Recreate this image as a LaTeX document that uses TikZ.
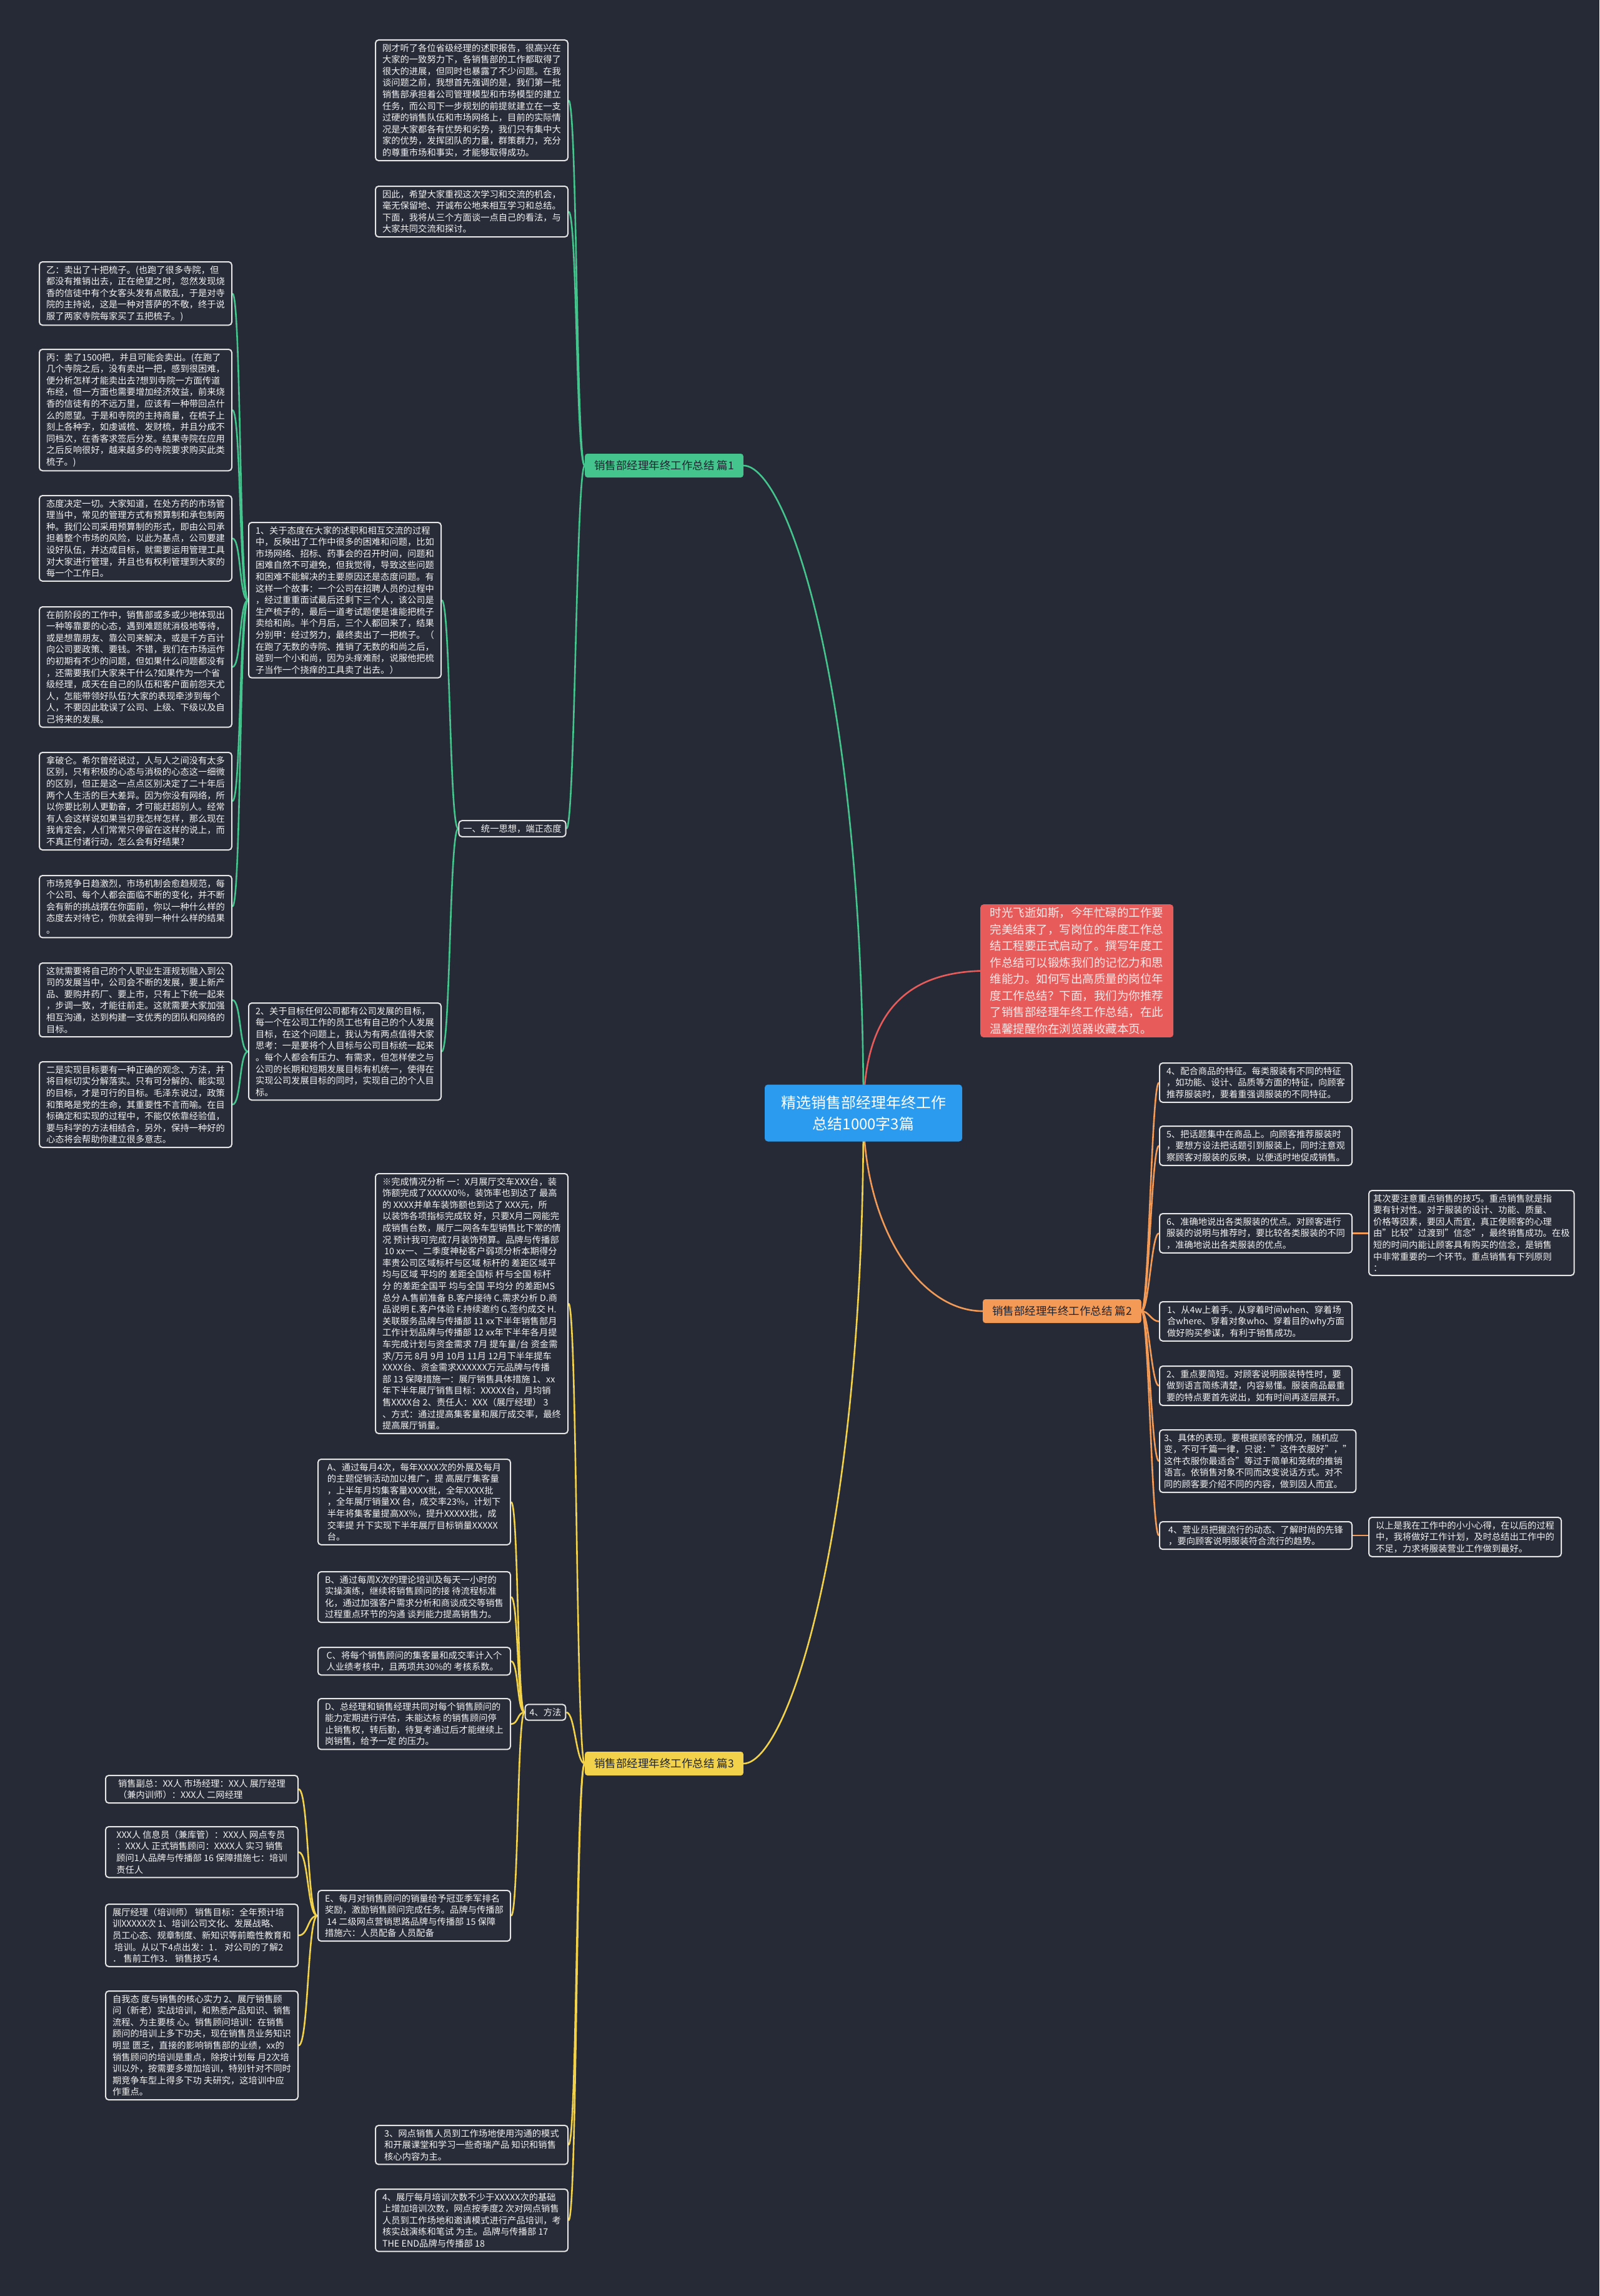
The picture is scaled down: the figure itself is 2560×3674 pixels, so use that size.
\documentclass[tikz,border=0pt]{standalone}
\usepackage{fontspec}
\setmainfont{Noto Sans CJK SC}
\definecolor{bgdark}{HTML}{262A36}
\definecolor{boxfill}{HTML}{282C38}
\definecolor{boxline}{HTML}{E6E6E6}
\definecolor{txt}{HTML}{F2F2F2}
\definecolor{labtxt}{HTML}{1F2430}
\definecolor{gline}{HTML}{44C58D}
\definecolor{rline}{HTML}{E85B5B}
\definecolor{oline}{HTML}{F39A57}
\definecolor{yline}{HTML}{F2D24A}
\definecolor{ctrblue}{HTML}{2B9BF0}
\definecolor{introtxt}{HTML}{FCE8E8}
\pgfdeclarelayer{bglayer}
\pgfdeclarelayer{edgelayer}
\pgfsetlayers{bglayer,edgelayer,main}

\begin{document}
\begin{tikzpicture}[x=1pt,y=-1pt,
  textbox/.style={draw=boxline,line width=2pt,rounded corners=5pt,fill=boxfill,text=txt,align=left,anchor=north west,inner xsep=7pt,inner ysep=6pt,minimum width=308pt,font=\fontsize{14.3}{18.6}\selectfont},
  subbox/.style={draw=boxline,line width=2pt,rounded corners=5pt,fill=boxfill,text=txt,inner xsep=7pt,inner ysep=6pt,font=\fontsize{14.3}{18.6}\selectfont},
  branchtag/.style={fill=#1,text=labtxt,rounded corners=4pt,inner xsep=15pt,minimum height=38pt,font=\fontsize{17.5}{21}\selectfont},
  wire/.style={draw=#1,line width=2.6pt}]
\useasboundingbox (0,0) rectangle (2560,3674);
\begin{pgfonlayer}{bglayer}
\fill[bgdark] (0,0) rectangle (2560,3674);
\end{pgfonlayer}

\node[fill=ctrblue,text=white,rounded corners=5pt,align=center,inner xsep=26pt,minimum height=91pt,font=\fontsize{24}{34}\selectfont] (ctr) at (1382,1781) {精选销售部经理年终工作\\总结1000字3篇};
\node[fill=rline,text=introtxt,rounded corners=5pt,align=left,anchor=north west,inner xsep=12pt,inner ysep=5pt,minimum width=309pt,font=\fontsize{18.5}{26.5}\selectfont] (intro) at (1569,1447) {时光飞逝如斯，今年忙碌的工作要\\完美结束了，写岗位的年度工作总\\结工程要正式启动了。撰写年度工\\作总结可以锻炼我们的记忆力和思\\维能力。如何写出高质量的岗位年\\度工作总结？下面，我们为你推荐\\了销售部经理年终工作总结，在此\\温馨提醒你在浏览器收藏本页。};

\node[branchtag=gline] (t1) at (1063,745) {销售部经理年终工作总结 篇1};
\node[branchtag=oline] (t2) at (1700,2098) {销售部经理年终工作总结 篇2};
\node[branchtag=yline] (t3) at (1063,2822) {销售部经理年终工作总结 篇3};

\node[textbox] (p1a) at (600,63) {刚才听了各位省级经理的述职报告，很高兴在\\大家的一致努力下，各销售部的工作都取得了\\很大的进展，但同时也暴露了不少问题。在我\\谈问题之前，我想首先强调的是，我们第一批\\销售部承担着公司管理模型和市场模型的建立\\任务，而公司下一步规划的前提就建立在一支\\过硬的销售队伍和市场网络上，目前的实际情\\况是大家都各有优势和劣势，我们只有集中大\\家的优势，发挥团队的力量，群策群力，充分\\的尊重市场和事实，才能够取得成功。};
\node[textbox] (p1b) at (600,297) {因此，希望大家重视这次学习和交流的机会，\\毫无保留地、开诚布公地来相互学习和总结。\\下面，我将从三个方面谈一点自己的看法，与\\大家共同交流和探讨。};
\node[subbox] (u1) at (820,1326) {一、统一思想，端正态度};
\node[textbox] (g1) at (397,835) {1、关于态度在大家的述职和相互交流的过程\\中，反映出了工作中很多的困难和问题，比如\\市场网络、招标、药事会的召开时间，问题和\\困难自然不可避免，但我觉得，导致这些问题\\和困难不能解决的主要原因还是态度问题。有\\这样一个故事：一个公司在招聘人员的过程中\\，经过重重面试最后还剩下三个人，该公司是\\生产梳子的，最后一道考试题便是谁能把梳子\\卖给和尚。半个月后，三个人都回来了，结果\\分别甲：经过努力，最终卖出了一把梳子。（\\在跑了无数的寺院、推销了无数的和尚之后，\\碰到一个小和尚，因为头痒难耐，说服他把梳\\子当作一个挠痒的工具卖了出去。）};
\node[textbox] (g2) at (397,1604) {2、关于目标任何公司都有公司发展的目标，\\每一个在公司工作的员工也有自己的个人发展\\目标，在这个问题上，我认为有两点值得大家\\思考：一是要将个人目标与公司目标统一起来\\。每个人都会有压力、有需求，但怎样使之与\\公司的长期和短期发展目标有机统一，使得在\\实现公司发展目标的同时，实现自己的个人目\\标。};

\node[textbox] (c1) at (62,418) {乙：卖出了十把梳子。(也跑了很多寺院，但\\都没有推销出去，正在绝望之时，忽然发现烧\\香的信徒中有个女客头发有点散乱，于是对寺\\院的主持说，这是一种对菩萨的不敬，终于说\\服了两家寺院每家买了五把梳子。)};
\node[textbox] (c2) at (62,558) {丙：卖了1500把，并且可能会卖出。(在跑了\\几个寺院之后，没有卖出一把，感到很困难，\\便分析怎样才能卖出去?想到寺院一方面传道\\布经，但一方面也需要增加经济效益，前来烧\\香的信徒有的不远万里，应该有一种带回点什\\么的愿望。于是和寺院的主持商量，在梳子上\\刻上各种字，如虔诚梳、发财梳，并且分成不\\同档次，在香客求签后分发。结果寺院在应用\\之后反响很好，越来越多的寺院要求购买此类\\梳子。)};
\node[textbox] (c3) at (62,792) {态度决定一切。大家知道，在处方药的市场管\\理当中，常见的管理方式有预算制和承包制两\\种。我们公司采用预算制的形式，即由公司承\\担着整个市场的风险，以此为基点，公司要建\\设好队伍，并达成目标，就需要运用管理工具\\对大家进行管理，并且也有权利管理到大家的\\每一个工作日。};
\node[textbox] (c4) at (62,970) {在前阶段的工作中，销售部或多或少地体现出\\一种等靠要的心态，遇到难题就消极地等待，\\或是想靠朋友、靠公司来解决，或是千方百计\\向公司要政策、要钱。不错，我们在市场运作\\的初期有不少的问题，但如果什么问题都没有\\，还需要我们大家来干什么?如果作为一个省\\级经理，成天在自己的队伍和客户面前怨天尤\\人，怎能带领好队伍?大家的表现牵涉到每个\\人，不要因此耽误了公司、上级、下级以及自\\己将来的发展。};
\node[textbox] (c5) at (62,1203) {拿破仑。希尔曾经说过，人与人之间没有太多\\区别，只有积极的心态与消极的心态这一细微\\的区别，但正是这一点点区别决定了二十年后\\两个人生活的巨大差异。因为你没有网络，所\\以你要比别人更勤奋，才可能赶超别人。经常\\有人会这样说如果当初我怎样怎样，那么现在\\我肯定会，人们常常只停留在这样的说上，而\\不真正付诸行动，怎么会有好结果?};
\node[textbox] (c6) at (62,1400) {市场竞争日趋激烈，市场机制会愈趋规范，每\\个公司、每个人都会面临不断的变化，并不断\\会有新的挑战摆在你面前，你以一种什么样的\\态度去对待它，你就会得到一种什么样的结果\\。};
\node[textbox] (c7) at (62,1540) {这就需要将自己的个人职业生涯规划融入到公\\司的发展当中，公司会不断的发展，要上新产\\品、要购并药厂、要上市，只有上下统一起来\\，步调一致，才能往前走。这就需要大家加强\\相互沟通，达到构建一支优秀的团队和网络的\\目标。};
\node[textbox] (c8) at (62,1698) {二是实现目标要有一种正确的观念、方法，并\\将目标切实分解落实。只有可分解的、能实现\\的目标，才是可行的目标。毛泽东说过，政策\\和策略是党的生命，其重要性不言而喻。在目\\标确定和实现的过程中，不能仅依靠经验值，\\要与科学的方法相结合，另外，保持一种好的\\心态将会帮助你建立很多意志。};

\node[textbox] (r4) at (1855,1700) {4、配合商品的特征。每类服装有不同的特征\\，如功能、设计、品质等方面的特征，向顾客\\推荐服装时，要着重强调服装的不同特征。};
\node[textbox] (r5) at (1855,1801) {5、把话题集中在商品上。向顾客推荐服装时\\，要想方设法把话题引到服装上，同时注意观\\察顾客对服装的反映，以便适时地促成销售。};
\node[textbox] (r6) at (1855,1941) {6、准确地说出各类服装的优点。对顾客进行\\服装的说明与推荐时，要比较各类服装的不同\\，准确地说出各类服装的优点。};
\node[textbox] (rf1) at (2190,1904) {其次要注意重点销售的技巧。重点销售就是指\\要有针对性。对于服装的设计、功能、质量、\\价格等因素，要因人而宜，真正使顾客的心理\\由"比较"过渡到"信念"，最终销售成功。在极\\短的时间内能让顾客具有购买的信念，是销售\\中非常重要的一个环节。重点销售有下列原则\\：};
\node[textbox] (r1) at (1855,2082) {1、从4w上着手。从穿着时间when、穿着场\\合where、穿着对象who、穿着目的why方面\\做好购买参谋，有利于销售成功。};
\node[textbox] (r2) at (1855,2185) {2、重点要简短。对顾客说明服装特性时，要\\做到语言简练清楚，内容易懂。服装商品最重\\要的特点要首先说出，如有时间再逐层展开。};
\node[textbox] (r3) at (1855,2287) {3、具体的表现。要根据顾客的情况，随机应\\变，不可千篇一律，只说："这件衣服好"，"\\这件衣服你最适合"等过于简单和笼统的推销\\语言。依销售对象不同而改变说话方式。对不\\同的顾客要介绍不同的内容，做到因人而宜。};
\node[textbox] (r7) at (1855,2434) {4、营业员把握流行的动态、了解时尚的先锋\\，要向顾客说明服装符合流行的趋势。};
\node[textbox] (rf2) at (2190,2427) {以上是我在工作中的小小心得，在以后的过程\\中，我将做好工作计划，及时总结出工作中的\\不足，力求将服装营业工作做到最好。};

\node[textbox] (b1) at (600,1877) {※完成情况分析 一：X月展厅交车XXX台，装\\饰额完成了XXXXX0\%，装饰率也到达了 最高\\的 XXXX并单车装饰额也到达了 XXX元，所\\以装饰各项指标完成较 好，只要X月二网能完\\成销售台数，展厅二网各车型销售比下常的情\\况 预计我可完成7月装饰预算。品牌与传播部\\ \ 10 xx一、二季度神秘客户弱项分析本期得分\\率贵公司区域标杆与区域 标杆的 差距区域平\\均与区域 平均的 差距全国标 杆与全国 标杆\\分 的差距全国平 均与全国 平均分 的差距MS\\总分 A.售前准备 B.客户接待 C.需求分析 D.商\\品说明 E.客户体验 F.持续邀约 G.签约成交 H.\\关联服务品牌与传播部 11 xx下半年销售部月\\工作计划品牌与传播部 12 xx年下半年各月提\\车完成计划与资金需求 7月 提车量/台 资金需\\求/万元 8月 9月 10月 11月 12月下半年提车\\XXXX台、资金需求XXXXXX万元品牌与传播\\部 13 保障措施一：展厅销售具体措施 1、xx\\年下半年展厅销售目标：XXXXX台，月均销\\售XXXX台 2、责任人：XXX（展厅经理） 3\\、方式：通过提高集客量和展厅成交率，最终\\提高展厅销量。};
\node[subbox] (m4) at (873,2740) {4、方法};
\node[textbox] (ma) at (508,2334) {A、通过每月4次，每年XXXX次的外展及每月\\的主题促销活动加以推广，提 高展厅集客量\\，上半年月均集客量XXXX批，全年XXXX批\\，全年展厅销量XX 台，成交率23\%，计划下\\半年将集客量提高XX\%，提升XXXXX批，成\\交率提 升下实现下半年展厅目标销量XXXXX\\台。};
\node[textbox] (mb) at (508,2514) {B、通过每周X次的理论培训及每天一小时的\\实操演练，继续将销售顾问的接 待流程标准\\化，通过加强客户需求分析和商谈成交等销售\\过程重点环节的沟通 谈判能力提高销售力。};
\node[textbox] (mc) at (508,2635) {C、将每个销售顾问的集客量和成交率计入个\\人业绩考核中，且两项共30\%的 考核系数。};
\node[textbox] (md) at (508,2717) {D、总经理和销售经理共同对每个销售顾问的\\能力定期进行评估，未能达标 的销售顾问停\\止销售权，转后勤，待复考通过后才能继续上\\岗销售，给予一定 的压力。};
\node[textbox] (me) at (508,3024) {E、每月对销售顾问的销量给予冠亚季军排名\\奖励，激励销售顾问完成任务。品牌与传播部\\ \ 14 二级网点营销思路品牌与传播部 15 保障\\措施六：人员配备 人员配备};
\node[textbox] (l1) at (168,2840) {销售副总：XX人 市场经理：XX人 展厅经理\\（兼内训师）：XXX人 二网经理};
\node[textbox] (l2) at (168,2922) {XXX人 信息员（兼库管）：XXX人 网点专员\\：XXX人 正式销售顾问：XXXX人 实习 销售\\顾问1人品牌与传播部 16 保障措施七：培训\\责任人};
\node[textbox] (l3) at (168,3046) {展厅经理（培训师） 销售目标：全年预计培\\训XXXXX次 1、培训公司文化、发展战略、\\员工心态、规章制度、新知识等前瞻性教育和\\ \ 培训。从以下4点出发：1． 对公司的了解2\\． 售前工作3． 销售技巧 4.};
\node[textbox] (l4) at (168,3185) {自我态 度与销售的核心实力 2、展厅销售顾\\问（新老）实战培训，和熟悉产品知识、销售\\流程、为主要核 心。销售顾问培训：在销售\\顾问的培训上多下功夫，现在销售员业务知识\\明显 匮乏，直接的影响销售部的业绩，xx的\\销售顾问的培训是重点，除按计划每 月2次培\\训以外，按需要多增加培训，特别针对不同时\\期竞争车型上得多下功 夫研究，这培训中应\\作重点。};
\node[textbox] (bt1) at (600,3400) {3、网点销售人员到工作场地使用沟通的模式\\和开展课堂和学习一些奇瑞产品 知识和销售\\核心内容为主。};
\node[textbox] (bt2) at (600,3502) {4、展厅每月培训次数不少于XXXXX次的基础\\上增加培训次数，网点按季度2 次对网点销售\\人员到工作场地和邀请模式进行产品培训，考\\核实战演练和笔试 为主。品牌与传播部 17\\THE END品牌与传播部 18};

\begin{pgfonlayer}{edgelayer}
\draw[wire=gline] (ctr.center) .. controls (1382,1100) and (1260,745) .. (t1.east);
\draw[wire=rline] (ctr.center) .. controls (1382,1600) and (1470,1557) .. (intro.west);
\draw[wire=oline] (ctr.center) .. controls (1382,1960) and (1470,2098) .. (t2.west);
\draw[wire=yline] (ctr.center) .. controls (1382,2460) and (1260,2822) .. (t3.east);

\draw[wire=gline] (t1.west) .. controls +(-14,0) and +(14,0) .. (p1a.east);
\draw[wire=gline] (t1.west) .. controls +(-14,0) and +(14,0) .. (p1b.east);
\draw[wire=gline] (t1.west) .. controls +(-14,0) and +(14,0) .. (u1.east);
\draw[wire=gline] (u1.west) .. controls +(-14,0) and +(14,0) .. (g1.east);
\draw[wire=gline] (u1.west) .. controls +(-14,0) and +(14,0) .. (g2.east);
\draw[wire=gline] (g1.west) .. controls +(-14,0) and +(14,0) .. (c1.east);
\draw[wire=gline] (g1.west) .. controls +(-14,0) and +(14,0) .. (c2.east);
\draw[wire=gline] (g1.west) .. controls +(-14,0) and +(14,0) .. (c3.east);
\draw[wire=gline] (g1.west) .. controls +(-14,0) and +(14,0) .. (c4.east);
\draw[wire=gline] (g1.west) .. controls +(-14,0) and +(14,0) .. (c5.east);
\draw[wire=gline] (g1.west) .. controls +(-14,0) and +(14,0) .. (c6.east);
\draw[wire=gline] (g2.west) .. controls +(-14,0) and +(14,0) .. (c7.east);
\draw[wire=gline] (g2.west) .. controls +(-14,0) and +(14,0) .. (c8.east);

\draw[wire=oline] (t2.east) .. controls +(12,0) and +(-12,0) .. (r4.west);
\draw[wire=oline] (t2.east) .. controls +(12,0) and +(-12,0) .. (r5.west);
\draw[wire=oline] (t2.east) .. controls +(12,0) and +(-12,0) .. (r6.west);
\draw[wire=oline] (t2.east) .. controls +(12,0) and +(-12,0) .. (r1.west);
\draw[wire=oline] (t2.east) .. controls +(12,0) and +(-12,0) .. (r2.west);
\draw[wire=oline] (t2.east) .. controls +(12,0) and +(-12,0) .. (r3.west);
\draw[wire=oline] (t2.east) .. controls +(12,0) and +(-12,0) .. (r7.west);
\draw[wire=oline] (r6.east) -- (rf1.west |- r6.east);
\draw[wire=oline] (r7.east) -- (rf2.west |- r7.east);

\draw[wire=yline] (t3.west) .. controls +(-14,0) and +(14,0) .. (b1.east);
\draw[wire=yline] (t3.west) .. controls +(-14,0) and +(14,0) .. (m4.east);
\draw[wire=yline] (t3.west) .. controls +(-14,0) and +(14,0) .. (bt1.east);
\draw[wire=yline] (t3.west) .. controls +(-14,0) and +(14,0) .. (bt2.east);
\draw[wire=yline] (m4.west) .. controls +(-12,0) and +(12,0) .. (ma.east);
\draw[wire=yline] (m4.west) .. controls +(-12,0) and +(12,0) .. (mb.east);
\draw[wire=yline] (m4.west) .. controls +(-12,0) and +(12,0) .. (mc.east);
\draw[wire=yline] (m4.west) .. controls +(-12,0) and +(12,0) .. (md.east);
\draw[wire=yline] (m4.west) .. controls +(-12,0) and +(12,0) .. (me.east);
\draw[wire=yline] (me.west) .. controls +(-16,0) and +(16,0) .. (l1.east);
\draw[wire=yline] (me.west) .. controls +(-16,0) and +(16,0) .. (l2.east);
\draw[wire=yline] (me.west) .. controls +(-16,0) and +(16,0) .. (l3.east);
\draw[wire=yline] (me.west) .. controls +(-16,0) and +(16,0) .. (l4.east);
\end{pgfonlayer}
\end{tikzpicture}
\end{document}
